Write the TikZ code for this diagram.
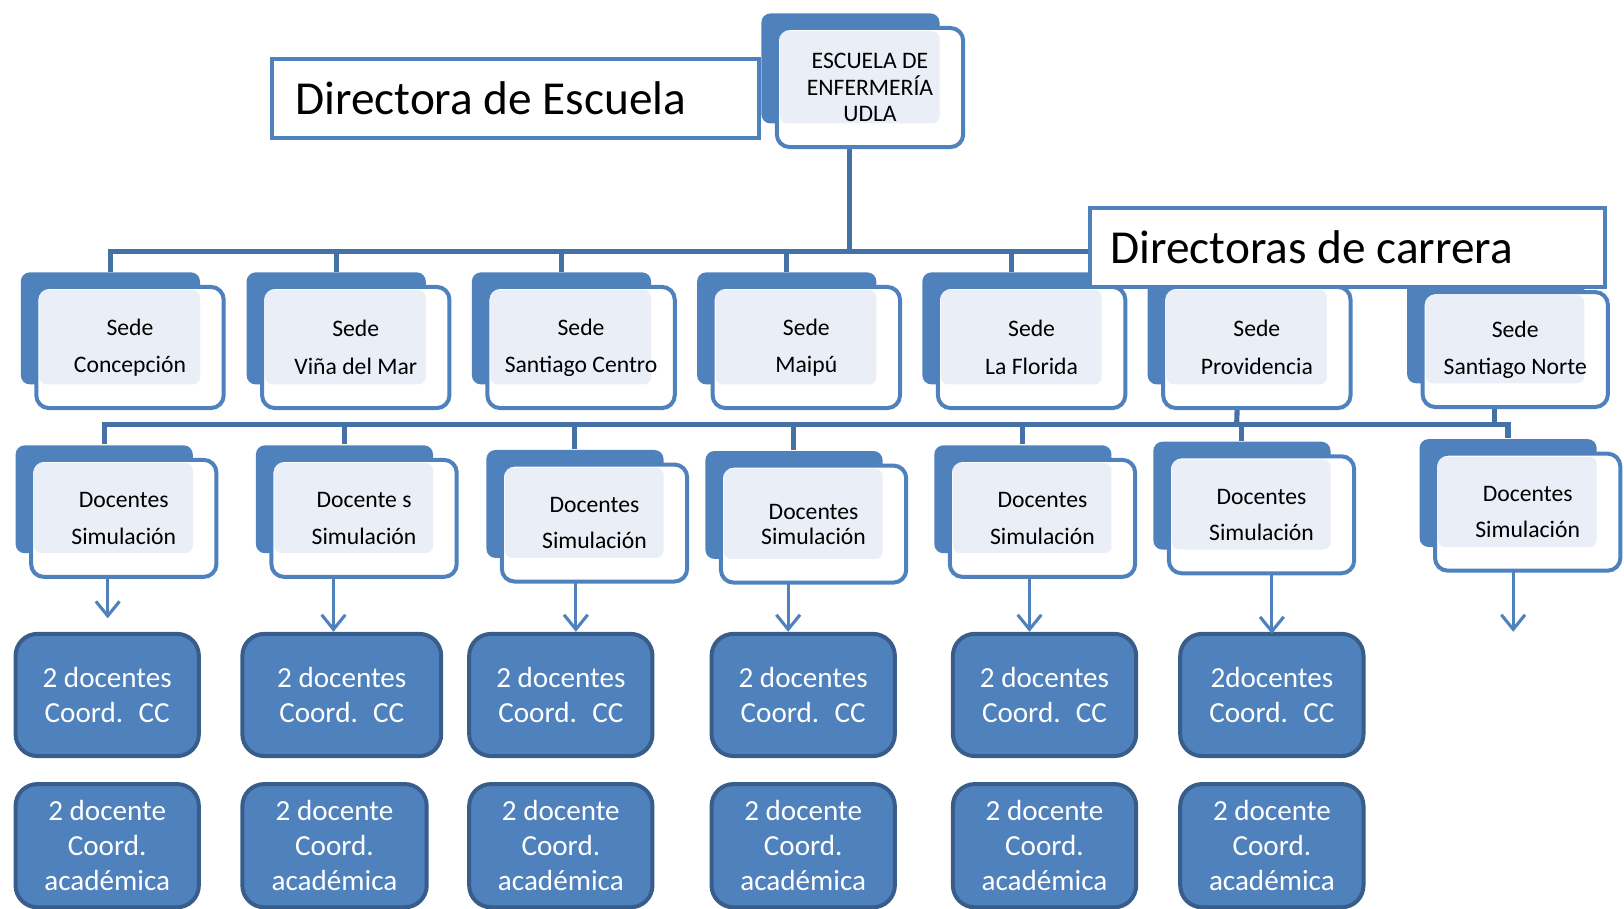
\documentclass[tikz,border=0pt]{standalone}
\usepackage{fontspec}
\setmainfont{Carlito}
\usetikzlibrary{calc,backgrounds,arrows.meta}
\definecolor{myboxcolor}{HTML}{4F81BD}
\definecolor{mypanelcolor}{HTML}{E9EEF7}
\definecolor{mylinecolor}{HTML}{4571A6}
\definecolor{myedgecolor}{HTML}{385D8A}

\tikzset{
  frontbox/.style={draw=myboxcolor, fill=white, rectangle, rounded corners=7pt, line width=2.2pt,
    outer sep=0pt, align=center, minimum width=3.62cm, minimum height=2.34cm,
    path picture={\fill[mypanelcolor, rounded corners=4pt]
      ([xshift=1.7pt,yshift=-1.7pt]path picture bounding box.north west) rectangle
      ([xshift=-13pt,yshift=13pt]path picture bounding box.south east);}},
  backbox/.style={fill=myboxcolor, rounded corners=5pt},
  busline/.style={draw=mylinecolor, line width=2.8pt},
  downarrow/.style={draw=myboxcolor, line width=1.7pt, -{Straight Barb[length=8pt, width=13pt]}},
  coordbox/.style={draw=myedgecolor, fill=myboxcolor, line width=2.2pt, rounded corners=12pt,
    text=white, align=center, font=\fontsize{16pt}{19.3pt}\selectfont,
    minimum width=3.54cm, minimum height=2.36cm, inner sep=2pt},
  titlebox/.style={draw=myboxcolor, fill=white, line width=2.2pt, minimum height=1.52cm,
    font=\fontsize{26pt}{30pt}\selectfont}
}

\begin{document}
\begin{tikzpicture}[x=0.02cm, y=-0.02cm]%
\useasboundingbox (0,0) rectangle (1568,877);%
% escuela
\node[frontbox, minimum width=3.6cm, minimum height=2.3cm, font=\fontsize{13pt}{14.5pt}\selectfont] (esc) at (840,84.5) {ESCUELA DE\\ENFERMERÍA\\UDLA};%
\node[titlebox, inner xsep=12.5pt] (dirEsc) at (498,95) {\makebox[8.52cm][l]{Directora de Escuela}};%
% sedes
\node[frontbox, font=\fontsize{13pt}{20.5pt}\selectfont] (sede1) at (125.5,335.5) {Sede\\Concepción};%
\node[frontbox, font=\fontsize{13pt}{20.5pt}\selectfont] (sede2) at (343.5,335.5) {Sede\\Viña del Mar};%
\node[frontbox, font=\fontsize{13pt}{20.5pt}\selectfont] (sede3) at (561,335.5) {Sede\\Santiago Centro};%
\node[frontbox, font=\fontsize{13pt}{20.5pt}\selectfont] (sede4) at (778.5,335.5) {Sede\\Maipú};%
\node[frontbox, font=\fontsize{13pt}{20.5pt}\selectfont] (sede5) at (996,335.5) {Sede\\La Florida};%
\node[frontbox, font=\fontsize{13pt}{20.5pt}\selectfont] (sede6) at (1213.5,335.5) {Sede\\Providencia};%
\node[frontbox, minimum width=3.58cm, minimum height=2.22cm, font=\fontsize{13pt}{20.5pt}\selectfont] (sede7) at (1463,337.5) {Sede\\Santiago Norte};%
\node[titlebox, inner xsep=11.4pt] (dirCar) at (1301,239) {\makebox[9.16cm][l]{Directoras de carrera}};%
% docentes simulacion
\node[frontbox, minimum width=3.58cm, minimum height=2.26cm, font=\fontsize{13pt}{20pt}\selectfont] (doc1) at (119.5,500.5) {Docentes\\Simulación};%
\node[frontbox, minimum width=3.58cm, minimum height=2.26cm, font=\fontsize{13pt}{20pt}\selectfont] (doc2) at (351.5,500.5) {Docente s\\Simulación};%
\node[frontbox, minimum width=3.58cm, minimum height=2.26cm, font=\fontsize{13pt}{20pt}\selectfont] (doc3) at (574,505) {Docentes\\Simulación};%
\node[frontbox, minimum width=3.58cm, minimum height=2.26cm, font=\fontsize{13pt}{13.7pt}\selectfont] (doc4) at (785.5,506) {Docentes\\Simulación};%
\node[frontbox, minimum width=3.58cm, minimum height=2.26cm, font=\fontsize{13pt}{20pt}\selectfont] (doc5) at (1006.5,500.5) {Docentes\\Simulación};%
\node[frontbox, minimum width=3.58cm, minimum height=2.26cm, font=\fontsize{13pt}{20pt}\selectfont] (doc6) at (1218,497) {Docentes\\Simulación};%
\node[frontbox, minimum width=3.58cm, minimum height=2.26cm, font=\fontsize{13pt}{20pt}\selectfont] (doc7) at (1475,494.5) {Docentes\\Simulación};%
% coordinaciones
\node[coordbox] (cc1) at (103.5,671) {2 docentes\\Coord.~ CC};%
\node[coordbox, minimum width=3.84cm] (cc2) at (330,671) {2 docentes\\Coord.~ CC};%
\node[coordbox] (cc3) at (541.5,671) {2 docentes\\Coord.~ CC};%
\node[coordbox] (cc4) at (775.5,671) {2 docentes\\Coord.~ CC};%
\node[coordbox] (cc5) at (1008.5,671) {2 docentes\\Coord.~ CC};%
\node[coordbox] (cc6) at (1228,671) {2docentes\\Coord.~ CC};%
\node[coordbox, minimum height=2.38cm] (acad1) at (103.5,816.5) {2 docente\\Coord.\\académica};%
\node[coordbox, minimum height=2.38cm, minimum width=3.56cm] (acad2) at (323,816.5) {2 docente\\Coord.\\académica};%
\node[coordbox, minimum height=2.38cm] (acad3) at (541.5,816.5) {2 docente\\Coord.\\académica};%
\node[coordbox, minimum height=2.38cm] (acad4) at (775.5,816.5) {2 docente\\Coord.\\académica};%
\node[coordbox, minimum height=2.38cm] (acad5) at (1008.5,816.5) {2 docente\\Coord.\\académica};%
\node[coordbox, minimum height=2.38cm] (acad6) at (1228,816.5) {2 docente\\Coord.\\académica};%
% flechas
\coordinate (t1) at (104,597);%
\coordinate (t2) at (322,610);%
\coordinate (t3) at (556,610);%
\coordinate (t4) at (761,610);%
\coordinate (t5) at (994,610);%
\coordinate (t6) at (1228,612);%
\coordinate (t7) at (1461,610);%
\foreach \i in {1,...,7} \draw[downarrow] (doc\i.south -| t\i) -- (t\i);%
% lineas y cajas de fondo
\begin{scope}[on background layer]
\coordinate (bus1) at (820,243);%
\coordinate (bus2) at (1194,410);%
\draw[busline] (esc.south -| bus1) -- (bus1);%
\foreach \i in {1,...,7} \draw[busline] ($(sede\i.north)+(-19,-14)$) |- (bus1);%
\foreach \i in {1,...,7} \draw[busline] ($(doc\i.north)+(-19,-15)$) |- (bus2);%
\draw[busline] ($(sede6.south)+(-19,0)$) -- (bus2);%
\draw[busline] ($(sede7.south)+(-20,0)$) |- (bus2);%
\foreach \n in {esc,sede1,sede2,sede3,sede4,sede5,sede6,sede7,doc1,doc2,doc3,doc4,doc5,doc6,doc7}
  \fill[backbox] ([xshift=-8.5pt,yshift=8pt]\n.north west) rectangle ([xshift=-13pt,yshift=13pt]\n.south east);%
\end{scope}
\end{tikzpicture}
\end{document}
